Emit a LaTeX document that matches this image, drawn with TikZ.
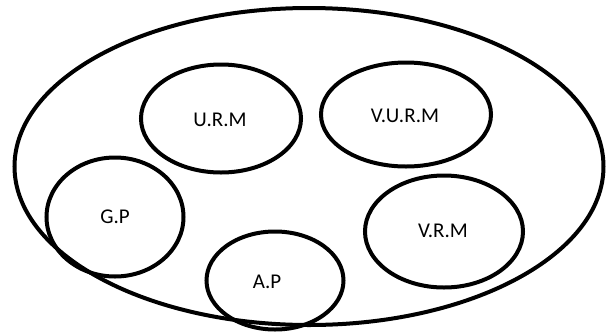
\documentclass[tikz,border=0pt]{standalone}
\usepackage{fontspec}
\setmainfont{Carlito}
\begin{document}
\begin{tikzpicture}[x=1pt,y=-1pt,
  ring/.style={draw=black,line width=4pt},
  lbl/.style={font=\fontsize{21}{24}\selectfont,text=black}]
\useasboundingbox (0,0) rectangle (606,333);
\draw[ring] (309,166.5) ellipse [x radius=294.5, y radius=158.5];
\draw[ring] (221,118.5) ellipse [x radius=80, y radius=54];
\draw[ring] (406,114.5) ellipse [x radius=85, y radius=52];
\draw[ring] (115,217) ellipse [x radius=68.5, y radius=59.5];
\draw[ring] (444,231.5) ellipse [x radius=79, y radius=56];
\draw[ring] (275,280.5) ellipse [x radius=68.5, y radius=49];
\node[lbl] (urm) at (220,120) {U.R.M};
\node[lbl] (vurm) at (405,116) {V.U.R.M};
\node[lbl] (gp) at (115,217) {G.P};
\node[lbl] (vrm) at (443,231) {V.R.M};
\node[lbl] (ap) at (267,282) {A.P};
\end{tikzpicture}
\end{document}
